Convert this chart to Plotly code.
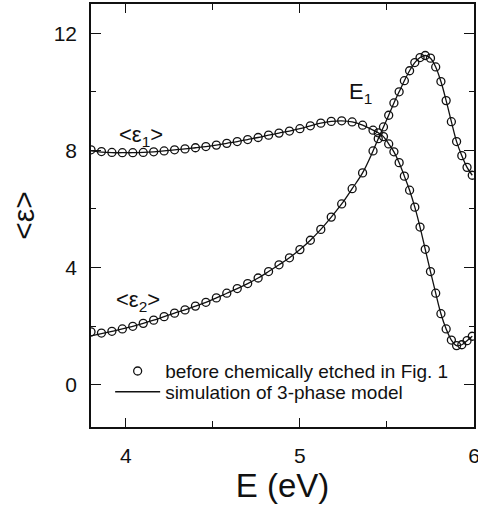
import plotly.graph_objects as go

# Photon energy (eV)
energy = [3.80, 3.86, 3.92, 3.98, 4.04, 4.10, 4.16, 4.22, 4.28, 4.34,
          4.40, 4.46, 4.52, 4.58, 4.64, 4.70, 4.76, 4.82, 4.88, 4.94,
          5.00, 5.06, 5.12, 5.18, 5.24, 5.30, 5.36, 5.42, 5.45, 5.48,
          5.51, 5.54, 5.57, 5.60, 5.63, 5.66, 5.69, 5.72, 5.75, 5.78,
          5.81, 5.84, 5.87, 5.90, 5.93, 5.96, 5.99]

# Measured <eps1>, <eps2> (before chemically etched)
eps1_meas = [8.02, 7.96, 7.93, 7.92, 7.92, 7.93, 7.95, 7.98, 8.02, 8.05,
             8.09, 8.13, 8.18, 8.24, 8.30, 8.37, 8.44, 8.52, 8.59, 8.66,
             8.74, 8.84, 8.93, 8.99, 9.01, 8.97, 8.86, 8.69, 8.60, 8.47,
             8.22, 7.95, 7.58, 7.12, 6.64, 6.06, 5.38, 4.62, 3.86, 3.12,
             2.42, 1.90, 1.52, 1.33, 1.36, 1.50, 1.65]
eps2_meas = [1.80, 1.76, 1.82, 1.90, 1.99, 2.09, 2.20, 2.32, 2.44, 2.55,
             2.68, 2.81, 2.96, 3.12, 3.28, 3.45, 3.64, 3.86, 4.09, 4.33,
             4.61, 4.93, 5.30, 5.72, 6.17, 6.69, 7.23, 7.98, 8.40, 8.80,
             9.20, 9.62, 10.00, 10.38, 10.72, 11.00, 11.17, 11.24, 11.15, 10.85,
             10.35, 9.70, 8.98, 8.30, 7.82, 7.42, 7.15]

# 3-phase model simulation
eps1_sim = [7.98, 7.94, 7.92, 7.92, 7.92, 7.93, 7.95, 7.98, 8.02, 8.05,
            8.09, 8.13, 8.18, 8.24, 8.30, 8.37, 8.44, 8.52, 8.59, 8.66,
            8.74, 8.84, 8.93, 8.99, 9.01, 8.97, 8.86, 8.69, 8.60, 8.47,
            8.22, 7.95, 7.58, 7.12, 6.64, 6.06, 5.38, 4.62, 3.86, 3.12,
            2.42, 1.90, 1.52, 1.33, 1.36, 1.50, 1.65]
eps2_sim = [1.66, 1.74, 1.82, 1.90, 1.99, 2.09, 2.20, 2.32, 2.44, 2.55,
            2.68, 2.81, 2.96, 3.12, 3.28, 3.45, 3.64, 3.86, 4.09, 4.33,
            4.61, 4.93, 5.30, 5.72, 6.17, 6.69, 7.23, 7.98, 8.40, 8.80,
            9.20, 9.62, 10.00, 10.38, 10.72, 11.00, 11.17, 11.24, 11.15, 10.85,
            10.35, 9.70, 8.98, 8.30, 7.82, 7.42, 7.15]

x_ticks = [4, 5, 6]
y_ticks = [0, 4, 8, 12]

INK = "#111111"
FONT = "Liberation Sans, Arial, Helvetica, sans-serif"

fig = go.Figure()

marker_style = dict(symbol="circle-open", size=8, color=INK, line=dict(width=1.3, color=INK))

fig.add_trace(go.Scatter(x=energy, y=eps1_sim, mode="lines", line=dict(color=INK, width=1.3),
                         name="simulation of 3-phase model", showlegend=False,
                         line_shape="spline", legend="legend2"))
fig.add_trace(go.Scatter(x=energy, y=eps2_sim, mode="lines", line=dict(color=INK, width=1.3),
                         name="simulation of 3-phase model", showlegend=True,
                         line_shape="spline", legend="legend2"))
fig.add_trace(go.Scatter(x=energy, y=eps1_meas, mode="markers", marker=marker_style,
                         name="before chemically etched in Fig. 1", showlegend=True, legend="legend"))
fig.add_trace(go.Scatter(x=energy, y=eps2_meas, mode="markers", marker=marker_style,
                         name="before chemically etched in Fig. 1", showlegend=False, legend="legend"))

fig.add_annotation(x=4.09, y=8.5, text="&lt;ε<sub>1</sub>&gt;", showarrow=False,
                   font=dict(size=22, color=INK, family=FONT))
fig.add_annotation(x=4.07, y=2.85, text="&lt;ε<sub>2</sub>&gt;", showarrow=False,
                   font=dict(size=22, color=INK, family=FONT))
fig.add_annotation(x=5.35, y=9.95, text="E<sub>1</sub>", showarrow=False,
                   font=dict(size=22, color=INK, family=FONT))

legend_common = dict(xanchor="left", yanchor="middle", bgcolor="rgba(0,0,0,0)",
                     font=dict(size=19, color=INK, family=FONT), itemwidth=45)

fig.update_layout(
    width=478, height=507,
    margin=dict(l=91, r=4, t=4, b=80, autoexpand=False),
    plot_bgcolor="white", paper_bgcolor="white",
    font=dict(family=FONT, color=INK),
    legend=dict(x=0.05, y=0.132, **legend_common),
    legend2=dict(x=0.05, y=0.083, **legend_common),
    xaxis=dict(range=[3.8, 6.0], tickvals=x_ticks, ticks="inside", ticklen=9, tickwidth=1.3,
               tickcolor=INK, showline=True, linecolor=INK, linewidth=1.5, mirror="ticks",
               showgrid=False, zeroline=False, tickfont=dict(size=21, color=INK),
               ticklabelstandoff=9, automargin=False, ticklabeloverflow="allow",
               minor=dict(dtick=0.5, tick0=4, ticks="inside", ticklen=6, tickwidth=1.2, tickcolor=INK),
               title=dict(text="E (eV)", font=dict(size=33, color=INK), standoff=4)),
    yaxis=dict(range=[-1.45, 13.0], tickvals=y_ticks, ticks="inside", ticklen=10, tickwidth=1.3,
               tickcolor=INK, showline=True, linecolor=INK, linewidth=1.5, mirror="ticks",
               showgrid=False, zeroline=False, tickfont=dict(size=21, color=INK),
               ticklabelstandoff=8, automargin=False,
               minor=dict(dtick=2, tick0=0, ticks="inside", ticklen=5, tickwidth=1.2, tickcolor=INK),
               title=dict(text="&lt;ε&gt;", font=dict(size=30, color=INK), standoff=10)),
)

fig.write_html("out.html")
